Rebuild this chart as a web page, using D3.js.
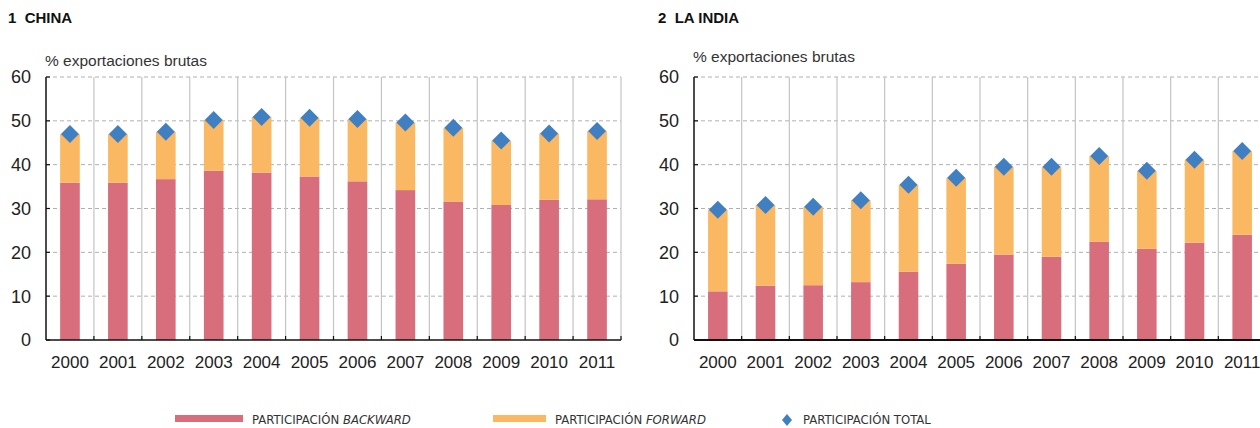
<!DOCTYPE html>
<html>
<head>
<meta charset="utf-8">
<script src="https://cdn.jsdelivr.net/npm/d3@7"></script>
<style>
  body { margin: 0; background: #fff; }
  svg { display: block; font-family: "Liberation Sans", Arial, sans-serif; }
</style>
</head>
<body>
<div id="chart"></div>
<script>
// Data
const years = ['2000', '2001', '2002', '2003', '2004', '2005', '2006', '2007', '2008', '2009', '2010', '2011'];

const chinaBackward = [35.9, 35.9, 36.7, 38.6, 38.2, 37.3, 36.2, 34.2, 31.6, 30.8, 32.0, 32.1];
const chinaTotal = [47.0, 47.0, 47.5, 50.2, 50.9, 50.7, 50.4, 49.6, 48.4, 45.5, 47.1, 47.7];

const indiaBackward = [11.1, 12.4, 12.5, 13.2, 15.6, 17.4, 19.5, 19.0, 22.4, 20.8, 22.2, 24.0];
const indiaTotal = [29.7, 30.8, 30.4, 31.9, 35.4, 37.0, 39.5, 39.5, 42.0, 38.6, 41.1, 43.1];

const yTicks = [0, 10, 20, 30, 40, 50, 60];

const colors = { backward: '#d86e7b', forward: '#fbb862', total: '#4080c2' };

const svg = d3.select('#chart')
  .append('svg')
  .attr('width', 1260)
  .attr('height', 428);

/**
 * Draw one panel
 */
function drawPanel(cfg) {
  const g = svg.append('g');

  const x = d3.scaleBand()
    .domain(years)
    .range([cfg.left, cfg.right])
    .paddingInner(0.59)
    .paddingOuter(0.295);

  const xCell = d3.scaleBand()
    .domain(years)
    .range([cfg.left, cfg.right]);

  const y = d3.scaleLinear()
    .domain([0, 60])
    .range([340, 77]);

  // Title
  g.append('text')
    .attr('x', cfg.titleX)
    .attr('y', 23)
    .style('font-size', '15px')
    .style('font-weight', 'bold')
    .style('fill', '#111')
    .style('white-space', 'pre')
    .text(cfg.title);

  // Unit label
  g.append('text')
    .attr('x', cfg.left - 1)
    .attr('y', cfg.unitY)
    .style('font-size', '15.5px')
    .style('fill', '#333')
    .text('% exportaciones brutas');

  // Horizontal dashed grid
  g.selectAll('.hgrid')
    .data(yTicks.filter(t => t > 0))
    .join('line')
    .attr('x1', cfg.left)
    .attr('x2', cfg.right)
    .attr('y1', d => y(d))
    .attr('y2', d => y(d))
    .attr('stroke', '#b0b0b0')
    .attr('stroke-width', 1)
    .attr('stroke-dasharray', '4,3');

  // Vertical grid lines between categories
  g.selectAll('.vgrid')
    .data(years.slice(1).concat(['end']))
    .join('line')
    .attr('x1', d => d === 'end' ? cfg.right : xCell(d))
    .attr('x2', d => d === 'end' ? cfg.right : xCell(d))
    .attr('y1', y(60))
    .attr('y2', y(0))
    .attr('stroke', '#c4c4c4')
    .attr('stroke-width', 1.2);

  // Backward bars
  g.selectAll('.bw')
    .data(years)
    .join('rect')
    .attr('x', d => x(d))
    .attr('width', x.bandwidth())
    .attr('y', (d, i) => y(cfg.backward[i]))
    .attr('height', (d, i) => y(0) - y(cfg.backward[i]))
    .attr('fill', colors.backward);

  // Forward bars (total - backward)
  g.selectAll('.fw')
    .data(years)
    .join('rect')
    .attr('x', d => x(d))
    .attr('width', x.bandwidth())
    .attr('y', (d, i) => y(cfg.total[i]))
    .attr('height', (d, i) => y(cfg.backward[i]) - y(cfg.total[i]))
    .attr('fill', colors.forward);

  // Total diamonds
  g.selectAll('.tot')
    .data(years)
    .join('path')
    .attr('d', 'M0,-9L9,0L0,9L-9,0Z')
    .attr('transform', (d, i) => `translate(${x(d) + x.bandwidth() / 2},${y(cfg.total[i])})`)
    .attr('fill', colors.total);

  // Y axis
  g.append('line')
    .attr('x1', cfg.left).attr('x2', cfg.left)
    .attr('y1', y(60)).attr('y2', y(0))
    .attr('stroke', '#111').attr('stroke-width', 1.5);

  g.selectAll('.ytick')
    .data(yTicks)
    .join('line')
    .attr('x1', cfg.left).attr('x2', cfg.left + 4)
    .attr('y1', d => y(d)).attr('y2', d => y(d))
    .attr('stroke', '#111').attr('stroke-width', 1.2);

  g.selectAll('.ylab')
    .data(yTicks)
    .join('text')
    .attr('x', cfg.left - 15)
    .attr('y', d => y(d))
    .attr('dy', '0.36em')
    .attr('text-anchor', 'end')
    .style('font-size', '18px')
    .style('fill', '#222')
    .text(d => d);

  // X axis
  g.append('line')
    .attr('x1', cfg.left).attr('x2', cfg.right)
    .attr('y1', y(0)).attr('y2', y(0))
    .attr('stroke', '#111').attr('stroke-width', cfg.xAxisWidth);

  g.selectAll('.xtick')
    .data(years.slice(1).concat(['end']))
    .join('line')
    .attr('x1', d => d === 'end' ? cfg.right : xCell(d))
    .attr('x2', d => d === 'end' ? cfg.right : xCell(d))
    .attr('y1', y(0) - 4).attr('y2', y(0))
    .attr('stroke', '#111').attr('stroke-width', 1.2);

  g.selectAll('.xlab')
    .data(years)
    .join('text')
    .attr('x', d => x(d) + x.bandwidth() / 2)
    .attr('y', 368)
    .attr('text-anchor', 'middle')
    .style('font-size', '17px')
    .style('fill', '#222')
    .text(d => d);
}

drawPanel({
  title: '1  CHINA', titleX: 8, unitY: 66,
  left: 46, right: 621, xAxisWidth: 1.5,
  backward: chinaBackward, total: chinaTotal
});

drawPanel({
  title: '2  LA INDIA', titleX: 658, unitY: 62,
  left: 694, right: 1266, xAxisWidth: 2.2,
  backward: indiaBackward, total: indiaTotal
});

// Legend
const legend = svg.append('g')
  .style('font-family', '"Liberation Sans Narrow", "DejaVu Sans Condensed", sans-serif')
  .style('font-size', '13px')
  .style('fill', '#333');

const legendItems = [
  { x: 175, w: 68, color: colors.backward, pre: 'PARTICIPACIÓN ', it: 'BACKWARD' },
  { x: 493, w: 53, color: colors.forward, pre: 'PARTICIPACIÓN ', it: 'FORWARD' }
];

legendItems.forEach(item => {
  legend.append('rect')
    .attr('x', item.x).attr('y', 415)
    .attr('width', item.w).attr('height', 7)
    .attr('fill', item.color);
  const t = legend.append('text')
    .attr('x', item.x + item.w + 9)
    .attr('y', 424);
  t.append('tspan').text(item.pre);
  t.append('tspan').style('font-style', 'italic').text(item.it);
});

legend.append('path')
  .attr('d', 'M0,-6L5,0L0,6L-5,0Z')
  .attr('transform', 'translate(787,420)')
  .attr('fill', colors.total);

legend.append('text')
  .attr('x', 803)
  .attr('y', 424)
  .text('PARTICIPACIÓN TOTAL');
</script>
</body>
</html>
